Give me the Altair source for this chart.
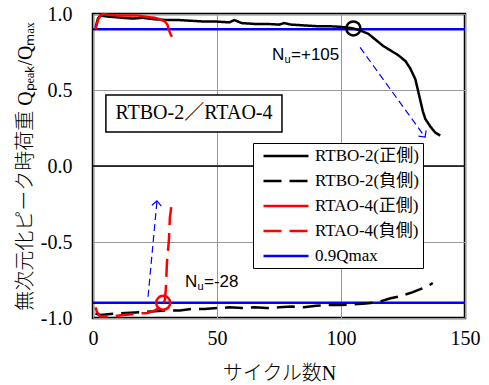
import altair as alt
import pandas as pd

S_BO_P = "RTBO-2(正側)"
S_BO_N = "RTBO-2(負側)"
S_AO_P = "RTAO-4(正側)"
S_AO_N = "RTAO-4(負側)"
S_LIM = "0.9Qmax"

series_names = [S_BO_P, S_BO_N, S_AO_P, S_AO_N, S_LIM]
series_colors = ["#000000", "#000000", "#ff0000", "#ff0000", "#0000ff"]
series_dashes = [[1, 0], [18, 8], [1, 0], [18, 8], [1, 0]]

# RTBO-2 positive side
bo_pos_N = [1, 2, 3, 5, 8, 12, 16, 20, 25, 30, 35, 40, 45, 50, 55, 57, 60, 65, 70, 75,
            77, 80, 85, 90, 95, 100, 103, 105, 108, 111, 114, 117, 120, 123, 126, 128,
            130, 131, 132, 133, 134, 136, 138, 140]
bo_pos_Q = [0.91, 0.97, 0.99, 0.985, 0.98, 0.975, 0.97, 0.975, 0.965, 0.96, 0.96, 0.955,
            0.95, 0.95, 0.945, 0.96, 0.94, 0.935, 0.935, 0.93, 0.94, 0.93, 0.925, 0.92,
            0.92, 0.915, 0.91, 0.905, 0.89, 0.87, 0.83, 0.79, 0.76, 0.73, 0.69, 0.64,
            0.57, 0.50, 0.43, 0.36, 0.31, 0.26, 0.22, 0.20]
# RTBO-2 negative side
bo_neg_N = [1, 3, 6, 10, 15, 20, 25, 30, 35, 40, 45, 50, 55, 60, 65, 70, 75, 80, 85, 90,
            95, 100, 105, 110, 115, 120, 123, 126, 129, 132, 135, 137]
bo_neg_Q = [-0.97, -0.98, -0.975, -0.97, -0.965, -0.96, -0.955, -0.95, -0.95, -0.94,
            -0.94, -0.935, -0.93, -0.935, -0.93, -0.935, -0.93, -0.925, -0.93, -0.92,
            -0.915, -0.915, -0.91, -0.905, -0.895, -0.87, -0.86, -0.845, -0.83, -0.81,
            -0.79, -0.77]
# RTAO-4 positive side
ao_pos_N = [1, 2, 3, 4, 6, 10, 14, 18, 22, 25, 27, 29, 30, 30.6, 31.2, 31.8]
ao_pos_Q = [0.90, 0.96, 0.99, 1.0, 0.995, 0.99, 0.99, 0.99, 0.98, 0.975, 0.965, 0.95,
            0.93, 0.895, 0.87, 0.85]
# RTAO-4 negative side
ao_neg_N = [1, 1.6, 2.8, 5, 8, 12, 16, 19, 22, 25, 27, 28.3, 29, 29.4, 29.8, 30.6, 31, 31.8]
ao_neg_Q = [-0.93, -0.96, -0.99, -0.99, -0.99, -0.98, -0.975, -0.97, -0.967, -0.95,
            -0.93, -0.91, -0.88, -0.80, -0.64, -0.49, -0.34, -0.24]

# 0.9Qmax reference lines
lim_N = [0, 150]
lim_Q = [0.9, -0.9]

# annotations
circle_N = [105, 28.3]
circle_Q = [0.905, -0.9]
circle_col = ["#000000", "#ff0000"]

arrow_N1 = [107.7, 22.2]
arrow_Q1 = [0.78, -0.86]
arrow_N2 = [133.9, 25.8]
arrow_Q2 = [0.19, -0.23]
arrow_angle = [144, 5]

note_N = [72.2, 37.1]
note_Q = [0.73, -0.763]
note_rest = ["=+105", "=-28"]

box_label = "RTBO-2／RTAO-4"
box_N = [5.2, 76.2]
box_Q = [0.467, 0.224]

rows = []
for name, Ns, Qs in [(S_BO_P, bo_pos_N, bo_pos_Q), (S_BO_N, bo_neg_N, bo_neg_Q),
                     (S_AO_P, ao_pos_N, ao_pos_Q), (S_AO_N, ao_neg_N, ao_neg_Q)]:
    for i, (n, q) in enumerate(zip(Ns, Qs)):
        rows.append({"N": n, "Q": q, "series": name, "grp": name, "ord": i})
df = pd.DataFrame(rows)

lim_rows = []
for g, q in enumerate(lim_Q):
    for i, n in enumerate(lim_N):
        lim_rows.append({"N": n, "Q": q, "series": S_LIM, "grp": f"lim{g}", "ord": i})
lim_df = pd.DataFrame(lim_rows)

circ_df = pd.DataFrame({"N": circle_N, "Q": circle_Q, "c": circle_col})
arr_df = pd.DataFrame({"N": arrow_N1, "Q": arrow_Q1, "N2": arrow_N2, "Q2": arrow_Q2,
                       "ang": arrow_angle})
note_df = pd.DataFrame({"N": note_N, "Q": note_Q, "rest": note_rest})
box_df = pd.DataFrame({"N": [box_N[0]], "N2": [box_N[1]], "Q": [box_Q[0]], "Q2": [box_Q[1]],
                       "Nc": [(box_N[0] + box_N[1]) / 2], "Qc": [(box_Q[0] + box_Q[1]) / 2],
                       "label": [box_label]})
zero_df = pd.DataFrame({"Q": [0.0]})

SERIF = "'Liberation Serif', 'Noto Sans CJK JP'"

xscale = alt.Scale(domain=[0, 150], nice=False)
yscale = alt.Scale(domain=[-1, 1], nice=False)

xenc = alt.X("N:Q", scale=xscale,
             axis=alt.Axis(values=[0, 50, 100, 150], title="サイクル数N", labelPadding=10,
                           labelFlush=False, titleY=55, titleBaseline="middle"))
yenc = alt.Y("Q:Q", scale=yscale,
             axis=alt.Axis(values=[-1, -0.5, 0, 0.5, 1],
                           labelExpr="replace(format(datum.value, '.1f'), '−', '-')",
                           title="無次元化ピーク時荷重 Qₚₑₐₖ/Qₘₐₓ", labelPadding=21,
                           titleX=-68, titleY=152, titleAlign="center",
                           titleBaseline="middle", titleAngle=-90))

color_enc = alt.Color("series:N", scale=alt.Scale(domain=series_names, range=series_colors),
                      legend=alt.Legend(title=None))
dash_enc = alt.StrokeDash("series:N", scale=alt.Scale(domain=series_names, range=series_dashes),
                          legend=alt.Legend(title=None))

zero = alt.Chart(zero_df).mark_rule(color="black", strokeWidth=1.5).encode(y=alt.Y("Q:Q", scale=yscale))

lim = alt.Chart(lim_df).mark_line(strokeWidth=2.5).encode(
    x=xenc, y=yenc, color=color_enc, strokeDash=dash_enc, detail="grp:N", order="ord:Q")

lines = alt.Chart(df).mark_line(strokeWidth=2.5).encode(
    x="N:Q", y="Q:Q", color=color_enc, strokeDash=dash_enc, detail="grp:N", order="ord:Q")

circles = alt.Chart(circ_df).mark_point(shape="circle", size=196, filled=False, strokeWidth=2.5,
                                        opacity=1).encode(
    x="N:Q", y="Q:Q", stroke=alt.Stroke("c:N", scale=None))

arrows = alt.Chart(arr_df).mark_rule(color="#0000ff", strokeWidth=1.2, strokeDash=[7, 4]).encode(
    x="N:Q", y="Q:Q", x2="N2:Q", y2="Q2:Q")
heads = alt.Chart(arr_df).mark_point(shape="M-1,1L0,0L1,1", size=90, filled=False,
                                     color="#0000ff", strokeWidth=1.2, opacity=1).encode(
    x="N2:Q", y="Q2:Q", angle=alt.Angle("ang:Q", scale=None))

SANS = "Liberation Sans"
t_n = alt.Chart(note_df).mark_text(text="N", align="left", baseline="middle", font=SANS,
                                   fontSize=17).encode(x="N:Q", y="Q:Q")
t_u = alt.Chart(note_df).mark_text(text="u", align="left", baseline="middle", font=SANS,
                                   fontSize=11, dx=12.5, dy=5).encode(x="N:Q", y="Q:Q")
t_r = alt.Chart(note_df).mark_text(align="left", baseline="middle", font=SANS, fontSize=17,
                                   dx=19).encode(x="N:Q", y="Q:Q", text="rest:N")

box = alt.Chart(box_df).mark_rect(fill="white", stroke="black", strokeWidth=1.5).encode(
    x="N:Q", x2="N2:Q", y="Q:Q", y2="Q2:Q")
box_t = alt.Chart(box_df).mark_text(font=SERIF, fontSize=20, baseline="middle").encode(
    x="Nc:Q", y="Qc:Q", text="label:N")

chart = alt.layer(lim, zero, lines, circles, arrows, heads, t_n, t_u, t_r, box, box_t).properties(
    width=372, height=304,
    autosize=alt.AutoSizeParams(type="none"),
    padding={"left": 93, "top": 14, "right": 24, "bottom": 67},
).configure_view(
    stroke="black", strokeWidth=2.5
).configure_axis(
    grid=True, gridColor="#999999", gridWidth=1, domain=False, ticks=False,
    labelFont="Liberation Serif", labelFontSize=20, labelColor="black", labelOverlap=False,
    titleFont=SERIF, titleFontSize=20, titleFontWeight=300, titleColor="black",
).configure_legend(
    orient="none", legendX=160, legendY=129, fillColor="white", strokeColor="black",
    padding=4, rowPadding=8, labelFont=SERIF, labelFontSize=17, labelColor="black",
    symbolType="M-3,0H3", symbolSize=225, symbolStrokeWidth=2.5, symbolOffset=20,
    labelOffset=20, labelLimit=0,
)

chart.save("out.html", embed_options={"renderer": "svg", "actions": False})
